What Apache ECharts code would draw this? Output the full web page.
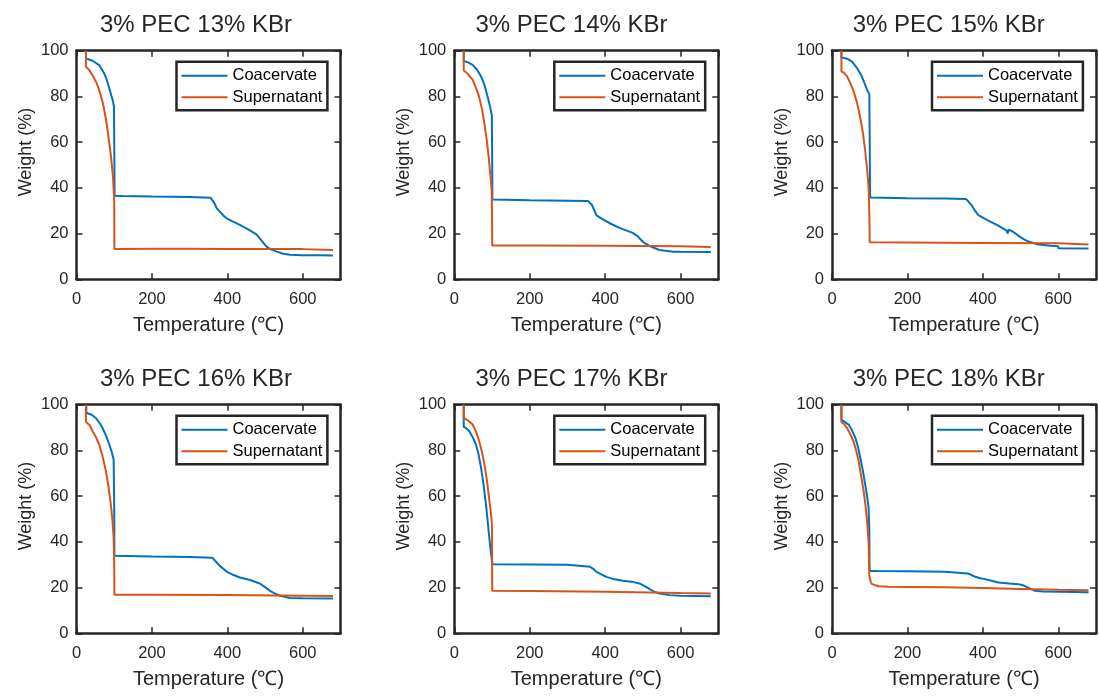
<!DOCTYPE html>
<html>
<head>
<meta charset="utf-8">
<script src="https://cdn.jsdelivr.net/npm/echarts@6/dist/echarts.min.js"></script>
<style>
html,body{margin:0;padding:0;background:#fff;}
#chart{width:1099px;height:696px;}
</style>
</head>
<body>
<div id="chart"></div>
<script>
// ---- data: [temperature (°C), weight (%)] ----
const titles = ['3% PEC 13% KBr','3% PEC 14% KBr','3% PEC 15% KBr','3% PEC 16% KBr','3% PEC 17% KBr','3% PEC 18% KBr'];
const seriesNames = ['Coacervate','Supernatant'];
const xTicks = [0, 200, 400, 600];
const yTicks = [0, 20, 40, 60, 80, 100];

const coac13 = [[25,100],[25,96.6],[42.6,95.6],[60,93.7],[73.7,90],[80,87.5],[87,83.5],[92,80.5],[96,78.4],[99.4,75.5],[100.3,55],[101,36.5],[120,36.4],[200,36.2],[300,36],[355,35.7],[365,33.5],[372,31],[380,29.6],[390,27.8],[398,26.7],[415,25.2],[433,23.8],[455,21.8],[477,19.7],[486,17.9],[495,16],[504,14.3],[515,13.1],[531,12.1],[548,11.2],[566,10.7],[600,10.5],[600,11],[600,10.4],[640,10.5],[680,10.4]];
const super13 = [[25,100],[25,93],[34,91.5],[47,87.9],[54,85.6],[60,82.8],[67,79],[72,75.5],[78,70],[82.5,65.3],[87,59.5],[91.5,53.6],[96.7,44.9],[100,34.7],[100.5,13.3],[200,13.4],[300,13.4],[400,13.3],[500,13.2],[600,13.2],[600,13.8],[600,13],[680,12.8]];

const coac14 = [[25,100],[25,95.5],[35,95],[48.7,93.8],[60,91.8],[71,88.7],[80,85],[88.5,79.7],[95,75.5],[99.5,71.7],[100.5,50],[101,34.9],[200,34.6],[300,34.4],[355,34.2],[365,32.5],[377,28],[394,26.2],[415,24.3],[438,22.5],[473,20.3],[485,19],[500,16.4],[518,14.5],[544,12.8],[580,12.1],[600,12],[600,12.6],[600,11.9],[680,11.9]];
const super14 = [[25,100],[25,91.3],[35,90],[48.7,87.2],[58,83.5],[66,79.7],[74,74],[80,68],[86,61],[91,53.8],[96,45],[99,39.2],[100,30],[100.5,14.8],[200,14.8],[400,14.7],[600,14.5],[600,15.1],[600,14.2],[680,14.1]];

const coac15 = [[25,100],[25,97],[40,96.5],[53,95.2],[66,92.5],[79,88.8],[88,85],[93,83],[99,80.9],[100,60],[101,37],[102,35.8],[200,35.5],[300,35.3],[355,35.1],[362,34],[371,32.2],[380,29.8],[388,28.1],[406,26.4],[425,24.8],[441,23.5],[463,21.3],[466,20],[468,21.7],[480,20.8],[494,19.1],[508,17.6],[521,16.5],[547,15.2],[580,14.7],[600,14.5],[600,13.6],[680,13.5]];
const super15 = [[25,100],[25,91],[32,90.3],[40,88.8],[48,86],[57,82.3],[66,77.5],[75,70.7],[82,64],[88,56.2],[93,48.5],[97,40.3],[99,29],[100,16.2],[200,16.1],[400,15.9],[600,15.8],[600,15.3],[680,15.2]];

const coac16 = [[26,100],[26,96.5],[40,95.6],[51,94.2],[60,92.3],[69,89.8],[78,86.6],[87,82.6],[94,79],[98.5,76],[100,55],[100.5,33.9],[200,33.6],[300,33.4],[360,33.1],[370,31.3],[380,29.5],[398,27],[415,25.6],[433,24.4],[460,23.3],[486,21.8],[500,20.2],[513,18.6],[527,17.3],[540,16.4],[566,15.4],[600,15.3],[600,15.7],[600,15.1],[680,15.2]];
const super16 = [[25,100],[25,92.4],[35,91],[42.6,88.4],[51,86],[60,82.6],[69,77.5],[78,70.9],[85,64],[91,56.4],[95,50],[98.5,41.9],[100,30],[100.5,16.9],[200,16.9],[400,16.7],[600,16.4],[600,17],[600,16.2],[680,16.3]];

const coac17 = [[25,100],[25,90.3],[32,89.6],[40,88.4],[48,86],[57.5,82.6],[64,78.5],[71,72.4],[78,64.5],[84,56.4],[88,50],[91,44.8],[94,40],[97,35.3],[100,31.5],[102,30.2],[200,30.1],[300,30],[360,29.1],[368,28.2],[376,27],[390,25.8],[403,24.7],[425,23.6],[447,23],[470,22.6],[491,21.8],[505,20.6],[518,19.3],[530,18.2],[544,17.4],[571,16.7],[600,16.4],[600,16.9],[600,16.2],[680,16.2]];
const super17 = [[25,100],[25,94.2],[35,93.3],[48.7,91.3],[58,88],[66,84],[73,79.5],[80,73.8],[86,67.5],[91,60.8],[96,54],[99,49.5],[100,45],[100.5,18.6],[200,18.5],[400,18.2],[600,17.6],[600,18.1],[600,17.4],[680,17.4]];

const coac18 = [[25,100],[25,93.5],[30,93.8],[44,91.3],[53,88.8],[62,85.5],[69,81.5],[75,76.7],[82,71],[88,65.1],[93,60],[97,55],[99,45],[99.5,30],[100,27.3],[120,27.2],[200,27.1],[300,26.9],[360,26.2],[370,25.5],[380,24.7],[393,24.1],[406,23.7],[425,22.9],[441,22.2],[470,21.8],[494,21.5],[506,21],[516,20.3],[527,19.4],[538,18.6],[560,18.3],[600,18.2],[600,18.7],[600,18],[680,18]];
const super18 = [[25,100],[25,92.4],[32,91.5],[40,89.8],[48,87.3],[57,84],[64,80],[70.6,75.3],[77,69],[84,62.2],[89,55.5],[93,49.1],[97,40.4],[98,33],[99,25],[101,24.5],[103,22.5],[106,21.5],[115,21],[124,20.6],[150,20.4],[200,20.3],[300,20.1],[400,19.8],[500,19.4],[600,19],[600,19.5],[600,18.8],[680,18.8]];

const coacData = [coac13, coac14, coac15, coac16, coac17, coac18];
const superData = [super13, super14, super15, super16, super17, super18];

// ---- layout ----
const FONT = '"Liberation Sans", Arial, Helvetica, sans-serif';
const TXT = '#262626';
const BLUE = '#0072BD', ORANGE = '#D95319';
const lefts = [76.5, 454.3, 832];
const tops = [50.7, 404.7];
const gw = 264, gh = 228.6;
const titleCenters = [196, 571.5, 948.7];

const grid = [], xAxis = [], yAxis = [], series = [], title = [], legend = [];
for (let i = 0; i < 6; i++) {
  const c = i % 3, r = Math.floor(i / 3);
  const L = lefts[c], T = tops[r];
  grid.push({left: L, top: T, width: gw, height: gh, show: false, containLabel: false});
  const axisLine = {show: true, onZero: false, lineStyle: {color: TXT, width: 2.5}};
  const tick = {show: true, inside: true, length: 6, lineStyle: {color: TXT, width: 1.5}};
  xAxis.push({
    type: 'value', gridIndex: i, min: 0, max: 700, interval: 200, position: 'bottom',
    axisLine, axisTick: tick, splitLine: {show: false},
    axisLabel: {color: TXT, fontSize: 16.5, fontFamily: FONT, margin: 12, showMaxLabel: false,
      formatter: v => xTicks.includes(v) ? String(v) : ''},
    name: 'Temperature (\u2103)', nameLocation: 'middle', nameGap: 36,
    nameTextStyle: {color: TXT, fontSize: 20, fontFamily: FONT}
  });
  xAxis.push({
    type: 'value', gridIndex: i, min: 0, max: 700, interval: 200, position: 'top',
    axisLine, axisTick: tick, splitLine: {show: false}, axisLabel: {show: false}
  });
  yAxis.push({
    type: 'value', gridIndex: i, min: 0, max: 100, interval: 20, position: 'left',
    axisLine, axisTick: tick, splitLine: {show: false},
    axisLabel: {color: TXT, fontSize: 16.5, fontFamily: FONT, margin: 8,
      formatter: v => yTicks.includes(v) ? String(v) : ''},
    name: 'Weight (%)', nameLocation: 'middle', nameGap: 41, nameRotate: 90,
    nameTextStyle: {color: TXT, fontSize: 18, fontFamily: FONT, padding: [0, 0, 0, 26]}
  });
  yAxis.push({
    type: 'value', gridIndex: i, min: 0, max: 100, interval: 20, position: 'right',
    axisLine, axisTick: tick, splitLine: {show: false}, axisLabel: {show: false}
  });
  series.push({
    name: seriesNames[0], type: 'line', xAxisIndex: 2 * i, yAxisIndex: 2 * i,
    data: coacData[i], showSymbol: false, symbol: 'none', smooth: false,
    lineStyle: {color: BLUE, width: 2}, itemStyle: {color: BLUE}, animation: false, z: 2
  });
  series.push({
    name: seriesNames[1], type: 'line', xAxisIndex: 2 * i, yAxisIndex: 2 * i,
    data: superData[i], showSymbol: false, symbol: 'none', smooth: false,
    lineStyle: {color: ORANGE, width: 2}, itemStyle: {color: ORANGE}, animation: false, z: 3
  });
  title.push({
    text: titles[i], left: titleCenters[c], textAlign: 'center', top: T - 37, padding: 0,
    textStyle: {color: TXT, fontSize: 24, fontWeight: 'normal', fontFamily: FONT}
  });
  legend.push({
    orient: 'vertical', left: L + 100, top: T + 11,
    data: seriesNames.map(n => ({name: n, icon: 'rect'})),
    itemWidth: 46, itemHeight: 2, itemGap: 3.5,
    padding: [5, 5, 4, 5],
    borderColor: TXT, borderWidth: 2.5, backgroundColor: '#fff',
    textStyle: {color: '#000', fontSize: 16.5, fontFamily: FONT, lineHeight: 18},
    selectedMode: false
  });
}

const chart = echarts.init(document.getElementById('chart'), null, {renderer: 'canvas'});
chart.setOption({
  backgroundColor: '#fff',
  animation: false,
  title, legend, grid, xAxis, yAxis, series
});
</script>
</body>
</html>
